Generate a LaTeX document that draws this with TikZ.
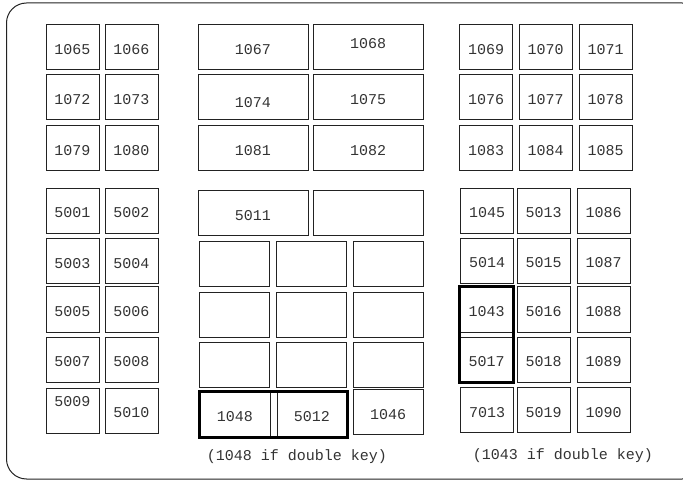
\documentclass[tikz,border=0pt]{standalone}
\usepackage{fontspec}
\newfontfamily\keyfont{Liberation Mono}
\definecolor{keyline}{HTML}{222222}
\definecolor{keytext}{HTML}{333333}

\begin{document}
\begin{tikzpicture}[x=1pt, y=-1pt,
    keybox/.style={draw=keyline, line width=1pt, rectangle, inner sep=0pt, minimum width=53pt, minimum height=45pt, text=keytext, font=\keyfont\fontsize{15}{15}\selectfont, text height=14pt, text depth=0pt},
    widebox/.style={keybox, minimum width=110pt},
    padbox/.style={keybox, minimum width=70pt},
    doublebox/.style={draw=black, line width=2.5pt},
    capnote/.style={text=keytext, font=\keyfont\fontsize{15}{15}\selectfont}]
\useasboundingbox (0,0) rectangle (683,481);
\clip (0,0) rectangle (683,481);
% outer frame
\draw[keyline, line width=1pt, rounded corners=20pt] (6.5,3) rectangle (702,479);

% left block
\node[keybox] (k1065) at (72.5,47.5) {1065};
\node[keybox] (k1066) at (131.5,47.5) {1066};
\node[keybox] (k1072) at (72.5,97.5) {1072};
\node[keybox] (k1073) at (131.5,97.5) {1073};
\node[keybox] (k1079) at (72.5,148.5) {1079};
\node[keybox] (k1080) at (131.5,148.5) {1080};
\node[keybox] (k5001) at (72.5,211) {5001};
\node[keybox] (k5002) at (131.5,211) {5002};
\node[keybox] (k5003) at (72.5,261.5) {5003};
\node[keybox] (k5004) at (131.5,261.5) {5004};
\node[keybox] (k5005) at (72.5,309.5) {5005};
\node[keybox] (k5006) at (131.5,309.5) {5006};
\node[keybox] (k5007) at (72.5,359.5) {5007};
\node[keybox] (k5008) at (131.5,359.5) {5008};
\node[keybox, text depth=21.8pt] (k5009) at (72.5,410.5) {5009};
\node[keybox] (k5010) at (131.5,410.5) {5010};

% middle block
\node[widebox] (k1067) at (253,47.5) {1067};
\node[widebox, text depth=11.8pt] (k1068) at (368,47.5) {1068};
\node[widebox, text height=20.2pt] (k1074) at (253,97.5) {1074};
\node[widebox] (k1075) at (368,97.5) {1075};
\node[widebox] (k1081) at (253,148.5) {1081};
\node[widebox] (k1082) at (368,148.5) {1082};
\node[widebox] (k5011) at (253,213.5) {5011};
\node[widebox] (m1) at (368,213.5) {};
\node[padbox] (p11) at (234.5,264.5) {};
\node[padbox] (p12) at (311,264.5) {};
\node[padbox] (p13) at (388,264.5) {};
\node[padbox] (p21) at (234.5,314.5) {};
\node[padbox] (p22) at (311,314.5) {};
\node[padbox] (p23) at (388,314.5) {};
\node[padbox] (p31) at (234.5,364.5) {};
\node[padbox] (p32) at (311,364.5) {};
\node[padbox] (p33) at (388,364.5) {};
\node[padbox] (k1048) at (235,414.5) {1048};
\node[padbox] (k5012) at (312,414.5) {5012};
\node[padbox] (k1046) at (388,412) {1046};
\draw[doublebox] (k1048.north west) rectangle (k5012.south east);
\node[capnote] (cap1048) at (297,457) {(1048 if double key)};

% right block
\node[keybox] (k1069) at (486,47.5) {1069};
\node[keybox] (k1070) at (545.5,47.5) {1070};
\node[keybox] (k1071) at (605.5,47.5) {1071};
\node[keybox] (k1076) at (486,97.5) {1076};
\node[keybox] (k1077) at (545.5,97.5) {1077};
\node[keybox] (k1078) at (605.5,97.5) {1078};
\node[keybox] (k1083) at (486,148.5) {1083};
\node[keybox] (k1084) at (545.5,148.5) {1084};
\node[keybox] (k1085) at (605.5,148.5) {1085};
\node[keybox] (k1045) at (487,211) {1045};
\node[keybox] (k5013) at (543.5,211) {5013};
\node[keybox] (k1086) at (603.5,211) {1086};
\node[keybox] (k5014) at (487,261) {5014};
\node[keybox] (k5015) at (543.5,261) {5015};
\node[keybox] (k1087) at (603.5,261) {1087};
\node[keybox] (k1043) at (486.5,309.5) {1043};
\node[keybox] (k5016) at (543.5,309.5) {5016};
\node[keybox] (k1088) at (603.5,309.5) {1088};
\node[keybox] (k5017) at (486.5,359.5) {5017};
\node[keybox] (k5018) at (543.5,359.5) {5018};
\node[keybox] (k1089) at (603.5,359.5) {1089};
\node[keybox] (k7013) at (487,410) {7013};
\node[keybox] (k5019) at (543.5,410) {5019};
\node[keybox] (k1090) at (603.5,410) {1090};
\draw[doublebox] (k1043.north west) rectangle (k5017.south east);
\node[capnote] (cap1043) at (563,456) {(1043 if double key)};
\end{tikzpicture}
\end{document}
